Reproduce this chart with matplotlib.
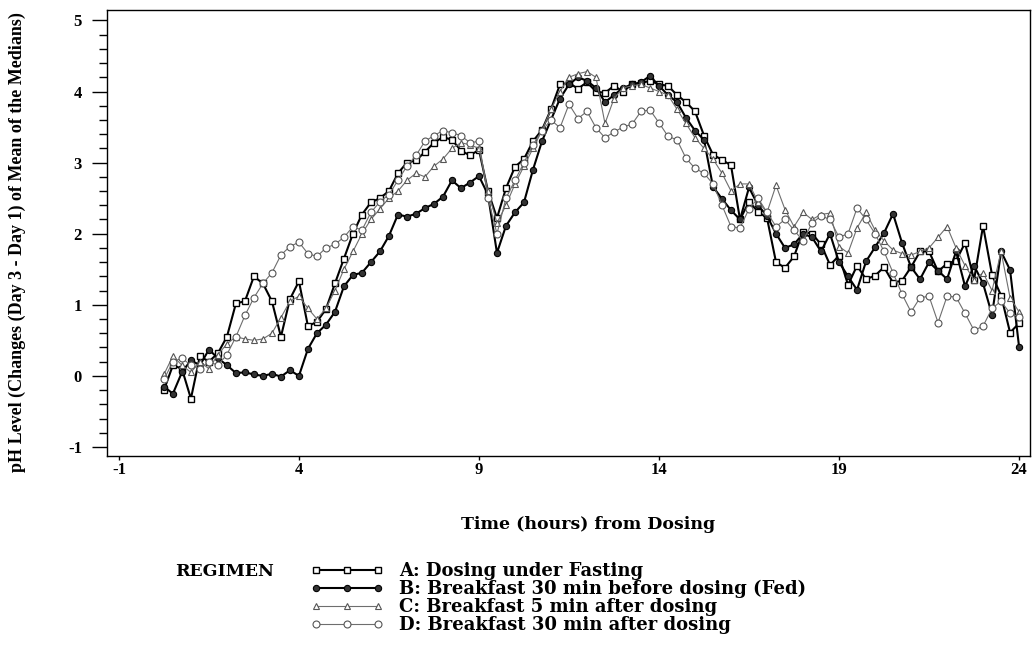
import numpy as np
import matplotlib
matplotlib.use('Agg')
import matplotlib.pyplot as plt
from matplotlib.ticker import MultipleLocator

plt.rcParams['font.family'] = ['Liberation Serif', 'DejaVu Serif']
plt.rcParams['font.weight'] = 'bold'
plt.rcParams['axes.unicode_minus'] = False

# sampling times: every 15 min from 0.25 h to 24 h
hours = np.arange(1, 97) * 0.25

# A: Dosing under Fasting
reg_a = [-0.20, 0.15, 0.10, -0.32, 0.28, 0.20, 0.32, 0.55,
         1.02, 1.05, 1.40, 1.30, 1.05, 0.55, 1.08, 1.33,
         0.70, 0.76, 0.94, 1.30, 1.65, 2.00, 2.27, 2.44,
         2.50, 2.60, 2.85, 3.00, 3.03, 3.15, 3.28, 3.36,
         3.32, 3.17, 3.10, 3.18, 2.60, 2.22, 2.64, 2.94,
         3.05, 3.30, 3.46, 3.75, 4.10, 4.12, 4.04, 4.13,
         4.00, 3.98, 4.08, 4.00, 4.10, 4.12, 4.15, 4.10,
         4.08, 3.95, 3.85, 3.72, 3.38, 3.11, 3.04, 2.96,
         2.20, 2.45, 2.31, 2.22, 1.60, 1.52, 1.68, 2.03,
         2.00, 1.85, 1.56, 1.69, 1.28, 1.55, 1.36, 1.41,
         1.53, 1.31, 1.34, 1.53, 1.75, 1.75, 1.47, 1.58,
         1.62, 1.87, 1.35, 2.11, 1.42, 1.13, 0.61, 0.74]

# B: Breakfast 30 min before dosing (Fed)
reg_b = [-0.15, -0.25, 0.05, 0.22, 0.15, 0.37, 0.25, 0.15,
         0.04, 0.05, 0.02, 0.00, 0.03, -0.01, 0.08, 0.00,
         0.38, 0.60, 0.72, 0.90, 1.26, 1.42, 1.45, 1.60,
         1.75, 1.97, 2.27, 2.24, 2.28, 2.36, 2.42, 2.52,
         2.75, 2.64, 2.72, 2.81, 2.55, 1.73, 2.11, 2.30,
         2.44, 2.90, 3.30, 3.60, 3.90, 4.10, 4.20, 4.15,
         4.05, 3.85, 3.95, 4.05, 4.10, 4.13, 4.22, 4.08,
         3.95, 3.85, 3.63, 3.45, 3.32, 2.66, 2.49, 2.33,
         2.20, 2.65, 2.40, 2.25, 2.00, 1.80, 1.85, 2.00,
         1.95, 1.75, 2.00, 1.60, 1.40, 1.21, 1.61, 1.81,
         2.01, 2.28, 1.87, 1.53, 1.36, 1.60, 1.48, 1.36,
         1.75, 1.26, 1.55, 1.30, 0.86, 1.75, 1.49, 0.41]

# C: Breakfast 5 min after dosing
reg_c = [0.02, 0.28, 0.15, 0.05, 0.20, 0.10, 0.30, 0.45,
         0.55, 0.52, 0.50, 0.52, 0.60, 0.82, 1.05, 1.12,
         0.95, 0.80, 0.95, 1.20, 1.50, 1.75, 2.00, 2.20,
         2.35, 2.50, 2.60, 2.75, 2.85, 2.80, 2.95, 3.05,
         3.20, 3.28, 3.25, 3.20, 2.60, 2.15, 2.40, 2.70,
         2.95, 3.20, 3.45, 3.75, 4.00, 4.20, 4.25, 4.28,
         4.20, 3.55, 3.90, 4.05, 4.08, 4.10, 4.05, 4.00,
         3.95, 3.75, 3.55, 3.35, 3.20, 3.05, 2.85, 2.60,
         2.70, 2.70, 2.45, 2.30, 2.68, 2.34, 2.10, 2.30,
         2.20, 2.27, 2.29, 1.82, 1.73, 2.08, 2.30, 2.05,
         1.90, 1.77, 1.72, 1.70, 1.75, 1.80, 1.95, 2.10,
         1.80, 1.55, 1.35, 1.45, 1.20, 1.75, 1.10, 0.90]

# D: Breakfast 30 min after dosing
reg_d = [-0.05, 0.20, 0.25, 0.15, 0.10, 0.20, 0.15, 0.30,
         0.55, 0.85, 1.10, 1.30, 1.45, 1.70, 1.82, 1.88,
         1.72, 1.68, 1.80, 1.85, 1.95, 2.10, 2.05, 2.30,
         2.45, 2.55, 2.75, 2.95, 3.10, 3.30, 3.38, 3.45,
         3.42, 3.38, 3.28, 3.30, 2.50, 2.00, 2.50, 2.75,
         3.00, 3.25, 3.45, 3.60, 3.49, 3.82, 3.62, 3.72,
         3.49, 3.35, 3.43, 3.50, 3.54, 3.72, 3.74, 3.56,
         3.37, 3.32, 3.06, 2.92, 2.85, 2.70, 2.40, 2.10,
         2.08, 2.35, 2.50, 2.30, 2.10, 2.20, 2.05, 1.90,
         2.15, 2.25, 2.20, 1.95, 2.00, 2.36, 2.20, 2.00,
         1.75, 1.45, 1.15, 0.90, 1.10, 1.12, 0.75, 1.12,
         1.11, 0.88, 0.64, 0.70, 0.95, 1.05, 0.88, 0.83]

labels = ['A: Dosing under Fasting',
          'B: Breakfast 30 min before dosing (Fed)',
          'C: Breakfast 5 min after dosing',
          'D: Breakfast 30 min after dosing']

# the original lettering is a wide bold serif
wide = ['DejaVu Serif']

fig = plt.figure(figsize=(10.34, 6.49), dpi=100)
ax = fig.add_axes([0.1035, 0.297, 0.8925, 0.688])

la, = ax.plot(hours, reg_a, color='black', lw=1.5, marker='s', ms=5,
              mfc='white', mec='black', mew=1.0)
lb, = ax.plot(hours, reg_b, color='black', lw=1.5, marker='o', ms=4.5,
              mfc='#333333', mec='black', mew=0.8)
lc, = ax.plot(hours, reg_c, color='#6e6e6e', lw=0.8, marker='^', ms=5,
              mfc='white', mec='#555555', mew=0.8)
ld, = ax.plot(hours, reg_d, color='#6e6e6e', lw=0.8, marker='o', ms=5,
              mfc='white', mec='#555555', mew=0.8)

ax.set_xlim(-1.33, 24.3)
ax.set_ylim(-1.13, 5.15)
ax.set_xticks([-1, 4, 9, 14, 19, 24])
ax.set_yticks([-1, 0, 1, 2, 3, 4, 5])
ax.yaxis.set_minor_locator(MultipleLocator(0.2))
ax.tick_params(axis='y', which='major', length=11, width=1, labelsize=12, pad=7)
ax.tick_params(axis='y', which='minor', length=6, width=1)
ax.tick_params(axis='x', which='major', length=3, width=1, labelsize=12, pad=1)
for s in ax.spines.values():
    s.set_linewidth(1.0)

ax.set_xlabel('Time (hours) from Dosing', fontsize=12.5, fontweight='bold',
              family=wide)
ax.xaxis.set_label_coords(0.521, -0.133)
ax.set_ylabel('pH Level (Changes (Day 3 - Day 1) of Mean of the Medians)',
              fontsize=13, fontweight='bold')
ax.yaxis.set_label_coords(-0.088, 0.48)

fig.text(0.169, 0.12, 'REGIMEN', fontsize=12.5, fontweight='bold',
         family=wide, va='center')
fig.legend([la, lb, lc, ld], labels, loc='upper left',
           bbox_to_anchor=(0.285, 0.159), frameon=False, numpoints=3,
           handlelength=4.0, handletextpad=0.9, labelspacing=0.0,
           prop={'size': 13, 'weight': 'bold', 'family': wide})

fig.savefig('out.png', dpi=100)
